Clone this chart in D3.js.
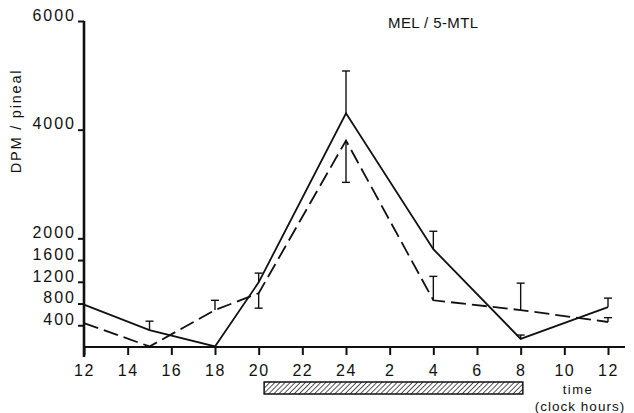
<!DOCTYPE html>
<html>
<head>
<meta charset="utf-8">
<script src="https://cdn.jsdelivr.net/npm/d3@7"></script>
<style>
  html, body { margin: 0; padding: 0; background: #fff; }
  svg text { font-family: "Liberation Sans", Arial, sans-serif; fill: #111; }
</style>
</head>
<body>
<svg id="chart" width="634" height="413"></svg>
<script>
// ---- data (hours elapsed from 12:00 of day 1) ----
const hours = [12, 15, 18, 20, 24, 28, 32, 36];
const melValues   = [780, 310, 10, 1190, 4300, 1800, 150, 735];   // solid
const melErr      = [0, 165, 0, 170, 780, 330, 70, 165];
const mtlValues   = [440, 10, 680, 990, 3800, 860, 680, 460];     // dashed
const mtlErr      = [0, 0, 180, -275, -770, 440, 495, 80];
const xTickHours  = [12, 14, 16, 18, 20, 22, 24, 26, 28, 30, 32, 34, 36];
const xTickLabels = ["12","14","16","18","20","22","24","2","4","6","8","10","12"];
const yTickValues = [400, 800, 1200, 1600, 2000, 4000, 6000];
const darkPeriod  = [20.25, 32.1];
const titleText   = "MEL / 5-MTL";
const yLabelText  = "DPM / pineal";

const svg = d3.select("#chart");
const x = d3.scaleLinear().domain([12, 36]).range([84, 608]);
const y = d3.scaleLinear().domain([0, 6000]).range([347, 21]);

// hatch pattern
const defs = svg.append("defs");
const pat = defs.append("pattern")
  .attr("id", "hatch").attr("patternUnits", "userSpaceOnUse")
  .attr("width", 3.6).attr("height", 3.6)
  .attr("patternTransform", "rotate(45)");
pat.append("line").attr("x1", 0).attr("y1", 0).attr("x2", 0).attr("y2", 3.6)
  .attr("stroke", "#111").attr("stroke-width", 1.4);

// axes
const xAxis = d3.axisBottom(x).tickValues(xTickHours)
  .tickFormat((d, i) => xTickLabels[i]).tickSize(8).tickPadding(10);
const gx = svg.append("g").attr("transform", `translate(0,${y(0)})`).call(xAxis);
gx.select(".domain").remove();
gx.selectAll(".tick line").attr("stroke", "#111").attr("stroke-width", 2);
gx.selectAll(".tick text").attr("font-size", 16).attr("letter-spacing", 1.5).attr("fill", "#111");
svg.append("line").attr("x1", x(12)).attr("x2", 625).attr("y1", y(0)).attr("y2", y(0))
  .attr("stroke", "#111").attr("stroke-width", 2.2);

const yAxis = d3.axisLeft(y).tickValues(yTickValues).tickFormat(d3.format("d"))
  .tickSize(6).tickPadding(2);
const gy = svg.append("g").attr("transform", `translate(${x(12)},0)`).call(yAxis);
gy.select(".domain").remove();
gy.selectAll(".tick line").attr("stroke", "#111").attr("stroke-width", 2);
gy.selectAll(".tick text").attr("font-size", 16).attr("letter-spacing", 2)
  .attr("dy", "-0.05em").attr("fill", "#111");
svg.append("line").attr("x1", x(12)).attr("x2", x(12)).attr("y1", y(6000)).attr("y2", y(0) + 10)
  .attr("stroke", "#111").attr("stroke-width", 2.6);

// lines
const line = d3.line().x(d => x(d[0])).y(d => y(d[1]));
const melData = hours.map((h, i) => [h, melValues[i]]);
const mtlData = hours.map((h, i) => [h, mtlValues[i]]);
svg.append("path").datum(melData).attr("d", line)
  .attr("fill", "none").attr("stroke", "#111").attr("stroke-width", 1.8);
svg.append("path").datum(mtlData).attr("d", line)
  .attr("fill", "none").attr("stroke", "#111").attr("stroke-width", 1.8)
  .attr("stroke-dasharray", "15,6");

// error bars
function errorBars(vals, errs) {
  const data = hours.map((h, i) => ({h, v: vals[i], e: errs[i]})).filter(d => d.e !== 0);
  const g = svg.append("g").attr("stroke", "#111").attr("stroke-width", 1.4);
  g.selectAll("line.v").data(data).join("line")
    .attr("x1", d => x(d.h)).attr("x2", d => x(d.h))
    .attr("y1", d => y(d.v)).attr("y2", d => y(d.v + d.e));
  g.selectAll("line.c").data(data).join("line")
    .attr("x1", d => x(d.h) - 4).attr("x2", d => x(d.h) + 4)
    .attr("y1", d => y(d.v + d.e)).attr("y2", d => y(d.v + d.e));
}
errorBars(melValues, melErr);
errorBars(mtlValues, mtlErr);

// dark period bar
svg.append("rect").attr("x", x(darkPeriod[0])).attr("width", x(darkPeriod[1]) - x(darkPeriod[0]))
  .attr("y", 382).attr("height", 12)
  .attr("fill", "url(#hatch)").attr("stroke", "#111").attr("stroke-width", 1.5);

// texts
svg.append("text").attr("x", 388).attr("y", 28).attr("font-size", 15)
  .attr("letter-spacing", 0.4).text(titleText);
svg.append("text").attr("transform", "translate(21,121) rotate(-90)")
  .attr("text-anchor", "middle").attr("font-size", 14.5).attr("letter-spacing", 1.8)
  .text(yLabelText);
svg.append("text").attr("x", 578).attr("y", 394).attr("text-anchor", "middle")
  .attr("font-size", 13).attr("letter-spacing", 1.5).text("time");
svg.append("text").attr("x", 580).attr("y", 410.5).attr("text-anchor", "middle")
  .attr("font-size", 13.5).attr("letter-spacing", 1).text("(clock hours)");
</script>
</body>
</html>
